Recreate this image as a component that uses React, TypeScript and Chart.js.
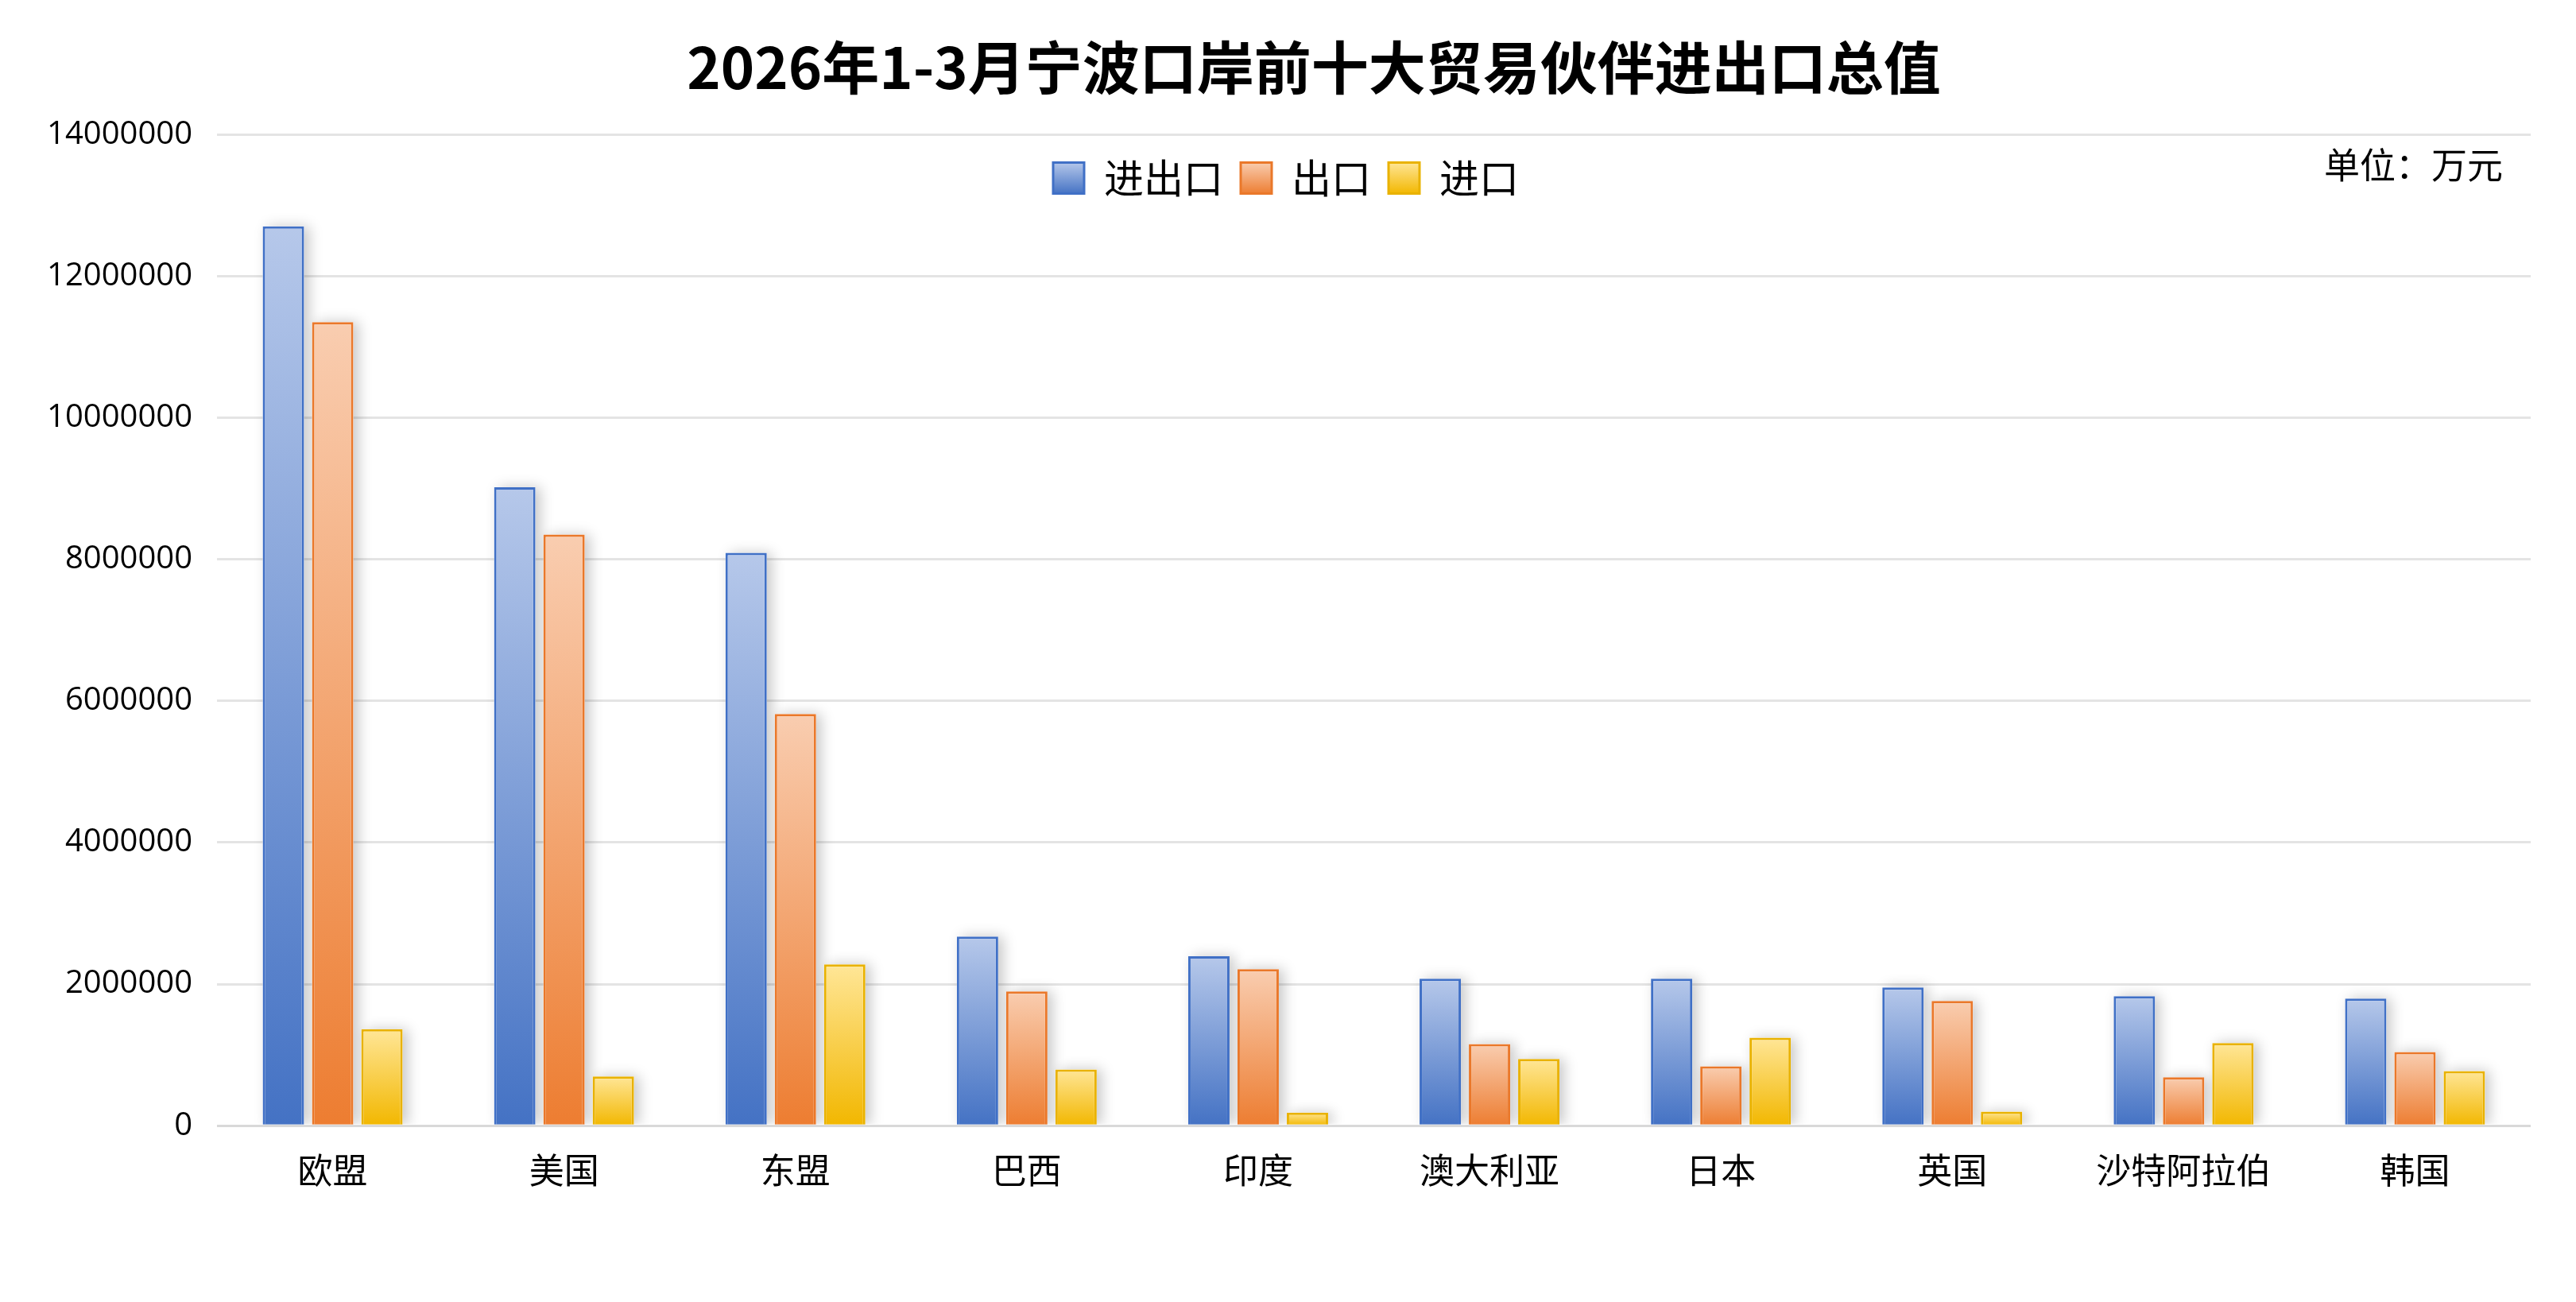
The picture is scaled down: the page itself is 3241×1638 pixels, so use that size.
import { useEffect, useRef } from "react";
import { Chart, registerables } from "chart.js";

Chart.register(...registerables);

const chartTitle = "2026年1-3月宁波口岸前十大贸易伙伴进出口总值";
const unitText = "单位：万元";

const categories = ["欧盟", "美国", "东盟", "巴西", "印度", "澳大利亚", "日本", "英国", "沙特阿拉伯", "韩国"];
const seriesNames = ["进出口", "出口", "进口"];

// 万元
const totalValues = [12705000, 9020000, 8092000, 2672000, 2394000, 2077000, 2077000, 1954000, 1830000, 1795000];
const exportValues = [11352000, 8350000, 5817000, 1896000, 2212000, 1154000, 838000, 1761000, 683000, 1042000];
const importValues = [1363000, 695000, 2278000, 795000, 185000, 942000, 1243000, 200000, 1166000, 772000];

const yMax = 14000000;
const yStep = 2000000;

const palette = [
  { light: "#B6C8EA", dark: "#4472C4", border: "#4070C6" },
  { light: "#F9CDB0", dark: "#ED7D31", border: "#EA782A" },
  { light: "#FFE697", dark: "#F2B700", border: "#E9B200" },
];

const LEGEND_Y = 216;
const CJK = '"Noto Sans CJK SC", sans-serif';

function barFill(i: number) {
  return (ctx: any) => {
    const c = palette[i];
    const yScale = ctx.chart.scales?.y;
    if (ctx.type !== "data" || !yScale) return c.dark;
    const top = yScale.getPixelForValue(ctx.raw);
    const base = yScale.getPixelForValue(0);
    if (!isFinite(top) || !isFinite(base) || base - top < 1) return c.dark;
    const g = ctx.chart.ctx.createLinearGradient(0, top, 0, base);
    g.addColorStop(0, c.light);
    g.addColorStop(1, c.dark);
    return g;
  };
}

// move the legend into the plot (like the Excel chart) and nudge the title
const placementPlugin = {
  id: "placement",
  afterLayout(chart: any) {
    const lg = chart.legend;
    if (lg) {
      const pad = lg.options.labels.padding;
      const itemH = Math.max(lg.options.labels.font.size, lg.options.labels.boxHeight);
      const dy = LEGEND_Y - (lg.top + pad + itemH / 2);
      lg.top += dy;
      lg.bottom += dy;
      lg.left += 22;
      lg.right += 22;
    }
    const t = chart.titleBlock;
    if (t) {
      t.left += 57;
      t.right += 57;
    }
  },
};

const shadowPlugin = {
  id: "barShadow",
  beforeDatasetsDraw(chart: any) {
    const { ctx, chartArea } = chart;
    ctx.save();
    ctx.beginPath();
    ctx.rect(chartArea.left, chartArea.top - 10, chartArea.right - chartArea.left + 20, chartArea.bottom - chartArea.top + 8);
    ctx.clip();
    ctx.shadowColor = "rgba(0,0,0,0.22)";
    ctx.shadowBlur = 16;
    ctx.shadowOffsetX = 6;
    ctx.fillStyle = "#ffffff";
    chart.data.datasets.forEach((_: any, di: number) => {
      chart.getDatasetMeta(di).data.forEach((el: any) => {
        const w = el.width;
        ctx.fillRect(el.x - w / 2, el.y, w, el.base - el.y);
      });
    });
    ctx.restore();
  },
};

const unitPlugin = {
  id: "unitLabel",
  afterDraw(chart: any) {
    const { ctx, chartArea } = chart;
    ctx.save();
    ctx.font = `45px ${CJK}`;
    ctx.fillStyle = "#000";
    ctx.textAlign = "right";
    ctx.textBaseline = "middle";
    ctx.fillText(unitText, chartArea.right - 35, 200);
    ctx.restore();
  },
};

export default function App() {
  const chartRef = useRef<HTMLCanvasElement>(null);
  const chartInstance = useRef<Chart | null>(null);

  useEffect(() => {
    if (!chartRef.current) return;
    if (chartInstance.current) chartInstance.current.destroy();

    const seriesValues = [totalValues, exportValues, importValues];

    chartInstance.current = new Chart(chartRef.current, {
      type: "bar",
      data: {
        labels: categories,
        datasets: seriesNames.map((name, i) => ({
          label: name,
          data: seriesValues[i],
          backgroundColor: barFill(i),
          borderColor: palette[i].border,
          borderWidth: 3,
          borderSkipped: "start",
          categoryPercentage: 0.639,
          barPercentage: 0.839,
        })),
      },
      options: {
        responsive: true,
        maintainAspectRatio: false,
        animation: false,
        layout: { padding: { left: 0, right: 49, top: 0, bottom: 19 } },
        plugins: {
          tooltip: { enabled: false },
          title: {
            display: true,
            text: chartTitle,
            color: "#000",
            font: { family: CJK, size: 72, weight: "bold", lineHeight: 1.2 },
            padding: { top: 33, bottom: 42 },
          },
          legend: {
            position: "bottom",
            labels: {
              color: "#000",
              font: { family: CJK, size: 50, lineHeight: 1.2 },
              boxWidth: 39,
              boxHeight: 39,
              padding: 22,
              generateLabels: (chart: any) => {
                const items = Chart.defaults.plugins.legend.labels.generateLabels(chart);
                return items.map((item: any, i: number) => {
                  const c = palette[item.datasetIndex ?? i];
                  const g = chart.ctx.createLinearGradient(0, LEGEND_Y - 20, 0, LEGEND_Y + 20);
                  g.addColorStop(0, c.light);
                  g.addColorStop(1, c.dark);
                  return { ...item, fillStyle: g, strokeStyle: c.border, lineWidth: 3 };
                });
              },
            },
          },
        },
        scales: {
          x: {
            grid: { display: false, drawTicks: false },
            border: { display: false },
            ticks: {
              color: "#000",
              font: { family: CJK, size: 44, lineHeight: 1.2 },
              padding: 30,
              maxRotation: 0,
              autoSkip: false,
            },
          },
          y: {
            min: 0,
            max: yMax,
            afterFit: (scale: any) => {
              scale.width = 265;
            },
            grid: {
              drawTicks: false,
              lineWidth: 3,
              color: (ctx: any) => (ctx.tick && ctx.tick.value === 0 ? "#D9D9D9" : "#E4E4E4"),
            },
            border: { display: false },
            ticks: {
              stepSize: yStep,
              padding: 31,
              color: "#000",
              font: { family: '"Open Sans", sans-serif', size: 40 },
              callback: (v: any) => String(v),
            },
          },
        },
      },
      plugins: [placementPlugin, shadowPlugin, unitPlugin],
    });

    return () => {
      if (chartInstance.current) {
        chartInstance.current.destroy();
        chartInstance.current = null;
      }
    };
  }, []);

  return (
    <div style={{ position: "relative", width: 3225, height: 1622, background: "#fff" }}>
      <canvas ref={chartRef} />
    </div>
  );
}
